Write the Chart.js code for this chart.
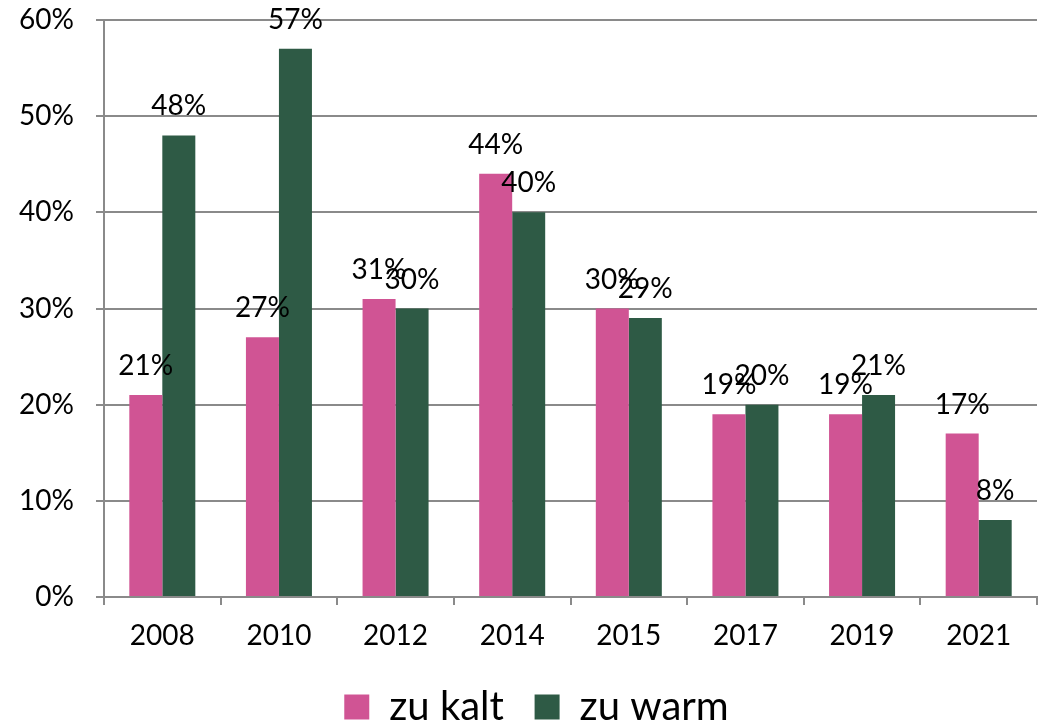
<!DOCTYPE html>
<html>
<head>
<meta charset="utf-8">
<script src="https://cdn.jsdelivr.net/npm/chart.js@4"></script>
<style>
  html, body { margin: 0; padding: 0; background: #fff; }
  #wrap { width: 1042px; height: 726px; }
</style>
</head>
<body>
<div id="wrap"><canvas id="chart"></canvas></div>
<script>
const YEARS = ['2008', '2010', '2012', '2014', '2015', '2017', '2019', '2021'];
const ZU_KALT = [21, 27, 31, 44, 30, 19, 19, 17];
const ZU_WARM = [48, 57, 30, 40, 29, 20, 21, 8];
const Y_TICKS = [0, 10, 20, 30, 40, 50, 60];

const FONT = 'Lato, "Noto Sans", sans-serif';
const GRID = '#8a8a8a';

// draws the percentage above every bar
const valueLabels = {
    id: 'valueLabels',
    afterDatasetsDraw(chart) {
        const ctx = chart.ctx;
        ctx.save();
        ctx.font = '28px ' + FONT;
        ctx.fillStyle = '#000';
        ctx.textAlign = 'center';
        ctx.textBaseline = 'alphabetic';
        chart.data.datasets.forEach((ds, i) => {
            chart.getDatasetMeta(i).data.forEach((bar, j) => {
                ctx.fillText(ds.data[j] + '%', bar.x, bar.y - 20);
            });
        });
        ctx.restore();
    }
};

// legend sits a little right of the canvas centre in the original
const legendShift = {
    id: 'legendShift',
    afterLayout(chart) {
        if (chart.legend) chart.legend.left += 36;
    }
};

new Chart(
    document.getElementById('chart'),
    {
        type: 'bar',
        data: {
            labels: YEARS,
            datasets: [
                {
                    label: 'zu kalt',
                    data: ZU_KALT,
                    backgroundColor: '#D05494',
                },
                {
                    label: 'zu warm',
                    data: ZU_WARM,
                    backgroundColor: '#2E5A45',
                },
            ]
        },
        options: {
            responsive: true,
            maintainAspectRatio: false,
            animation: false,
            layout: { padding: { top: 0, right: 5, left: 0, bottom: -11 } },
            datasets: {
                bar: { categoryPercentage: 0.566, barPercentage: 1.0 }
            },
            scales: {
                x: {
                    offset: true,
                    grid: {
                        offset: true,
                        drawOnChartArea: false,
                        tickLength: 8,
                        color: GRID,
                        lineWidth: 2,
                    },
                    border: { color: GRID, width: 2 },
                    ticks: {
                        color: '#000',
                        padding: 14,
                        font: { family: FONT, size: 28 },
                    },
                    afterFit: s => { s.height = 90; },
                },
                y: {
                    min: 0,
                    max: 60,
                    afterBuildTicks: s => { s.ticks = Y_TICKS.map(v => ({ value: v })); },
                    grid: {
                        color: GRID,
                        lineWidth: 2,
                        tickLength: 8,
                    },
                    border: { color: GRID, width: 2 },
                    ticks: {
                        color: '#000',
                        padding: 22,
                        font: { family: FONT, size: 28 },
                        callback: v => v + '%',
                    },
                    afterFit: s => {
                        s.width = 104;
                        s.paddingTop = 20;
                        s.paddingBottom = 0;
                    },
                },
            },
            plugins: {
                legend: {
                    position: 'bottom',
                    labels: {
                        color: '#000',
                        font: { family: FONT, size: 40 },
                        boxWidth: 25,
                        boxHeight: 25,
                        padding: 0,
                        generateLabels: chart => {
                            const items = Chart.defaults.plugins.legend.labels.generateLabels(chart);
                            // space between the two legend entries
                            items.forEach((it, i) => {
                                if (i < items.length - 1) it.text = it.text + '   ';
                            });
                            return items;
                        },
                    }
                },
                tooltip: { enabled: false },
            }
        },
        plugins: [valueLabels, legendShift]
    }
);
</script>
</body>
</html>
